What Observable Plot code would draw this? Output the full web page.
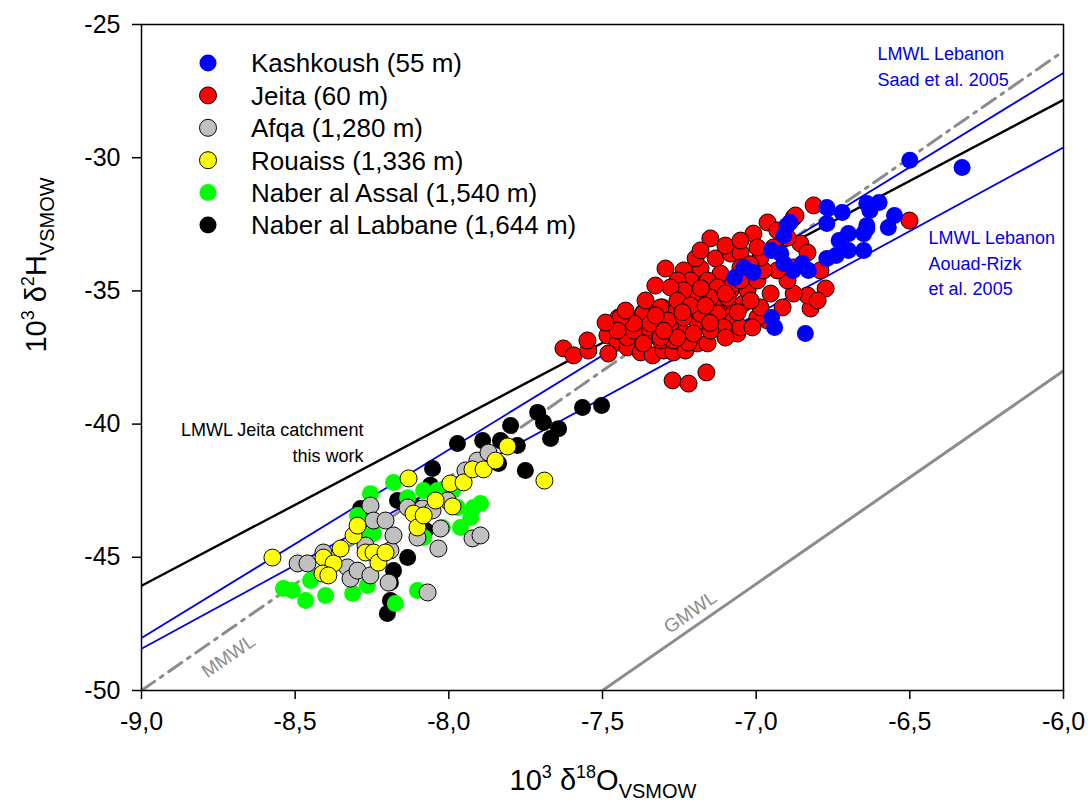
<!DOCTYPE html>
<html><head><meta charset="utf-8">
<script src="https://cdn.jsdelivr.net/npm/d3@7"></script>
<script src="https://cdn.jsdelivr.net/npm/@observablehq/plot@0.6"></script>
<style>body{margin:0;background:#fff} svg{display:block}</style>
</head><body><div id="chart"></div>
<script>
// [δ18O, δ2H] pairs
const kashkoush = [[-6.33,-30.37],[-6.50,-30.10],[-6.84,-36.60],[-6.95,-36.00],[-6.94,-36.37],[-7.07,-34.50],[-7.04,-34.12],[-7.01,-34.31],[-6.95,-33.48],[-6.92,-33.60],[-6.91,-33.97],[-6.88,-34.23],[-6.85,-33.97],[-6.83,-34.23],[-6.90,-32.55],[-6.91,-32.92],[-6.89,-32.43],[-6.77,-31.87],[-6.72,-32.06],[-6.77,-32.47],[-6.73,-33.11],[-6.70,-32.85],[-6.77,-33.78],[-6.74,-33.67],[-6.70,-33.48],[-6.65,-33.48],[-6.64,-32.55],[-6.63,-31.98],[-6.65,-32.85],[-6.64,-31.72],[-6.60,-31.68],[-6.55,-32.17],[-6.57,-32.62],[-6.64,-32.66]];
const jeita = [[-7.627,-37.16],[-7.594,-37.42],[-7.546,-37.24],[-7.549,-36.86],[-7.484,-36.67],[-7.448,-36.00],[-7.386,-36.11],[-7.367,-35.81],[-7.451,-36.94],[-7.481,-37.35],[-7.419,-37.12],[-7.376,-37.31],[-7.337,-37.42],[-7.301,-37.24],[-7.269,-37.31],[-7.230,-37.24],[-7.191,-36.97],[-7.158,-36.97],[-7.100,-36.67],[-7.061,-36.60],[-7.272,-38.36],[-7.220,-38.48],[-7.162,-38.06],[-7.305,-35.62],[-7.269,-35.74],[-7.223,-35.36],[-7.256,-34.87],[-7.191,-34.98],[-7.139,-35.10],[-7.083,-34.98],[-7.110,-35.55],[-7.334,-36.22],[-7.279,-36.37],[-7.236,-36.60],[-7.191,-36.22],[-7.158,-36.00],[-7.116,-35.85],[-7.093,-36.22],[-7.074,-35.85],[-7.419,-36.75],[-7.367,-36.79],[-7.311,-36.86],[-7.269,-36.86],[-7.220,-36.94],[-7.354,-36.37],[-7.399,-36.49],[-7.149,-33.03],[-7.236,-34.23],[-7.181,-34.16],[-7.132,-33.78],[-7.083,-33.60],[-7.051,-33.56],[-7.009,-32.85],[-6.963,-32.43],[-6.931,-32.73],[-6.878,-32.25],[-6.856,-33.22],[-6.833,-33.56],[-6.791,-34.23],[-6.774,-34.91],[-6.823,-35.66],[-6.833,-35.17],[-6.878,-35.10],[-6.914,-35.62],[-6.953,-35.10],[-6.898,-34.61],[-6.931,-34.23],[-6.878,-34.12],[-6.963,-36.11],[-6.996,-36.00],[-6.986,-35.62],[-7.041,-35.47],[-7.074,-36.11],[-7.028,-34.98],[-6.996,-34.61],[-6.976,-34.23],[-6.986,-33.75],[-6.944,-33.37],[-6.898,-33.00],[-6.996,-33.37],[-7.051,-34.12],[-7.116,-34.35],[-7.158,-34.61],[-7.214,-34.61],[-7.256,-34.61],[-7.074,-34.72],[-7.126,-34.87],[-7.093,-35.25],[-7.149,-35.25],[-7.191,-35.10],[-7.236,-34.98],[-7.279,-34.87],[-7.256,-35.36],[-7.311,-35.62],[-7.367,-35.85],[-7.399,-36.22],[-7.441,-36.00],[-7.451,-36.49],[-7.344,-36.22],[-7.288,-36.11],[-7.236,-36.00],[-7.181,-35.85],[-7.126,-35.85],[-7.106,-36.37],[-7.149,-36.49],[-7.204,-36.60],[-7.256,-36.75],[-7.311,-36.75],[-7.367,-36.97],[-7.100,-36.75],[-7.051,-36.37],[-7.012,-36.37],[-6.813,-31.79],[-6.872,-32.17],[-6.501,-32.36],[-6.800,-35.36],[-7.214,-35.55],[-7.165,-35.55],[-7.051,-34.61],[-7.018,-35.36],[-7.327,-35.92],[-7.300,-36.50],[-7.240,-35.80],[-7.150,-36.20],[-7.060,-35.80],[-7.100,-35.10],[-7.020,-34.00],[-7.180,-34.90],[-7.360,-35.36],[-7.328,-34.80],[-7.295,-34.16],[-7.197,-33.78],[-7.181,-33.48],[-7.100,-33.30],[-7.051,-33.11],[-7.425,-35.74],[-7.490,-36.19]];
const afqa = [[-8.492,-45.23],[-8.460,-45.23],[-8.408,-44.82],[-8.330,-45.38],[-8.320,-45.80],[-8.297,-45.50],[-8.271,-44.56],[-8.255,-43.06],[-8.245,-43.62],[-8.206,-43.62],[-8.255,-45.68],[-8.196,-45.95],[-8.190,-44.74],[-8.180,-44.18],[-8.134,-43.13],[-8.086,-43.17],[-8.069,-46.32],[-8.034,-44.67],[-8.027,-43.92],[-8.004,-42.87],[-7.946,-41.74],[-7.907,-41.37],[-7.871,-41.07],[-7.923,-44.29],[-7.897,-44.18],[-8.053,-43.24],[-8.102,-44.26]];
const rouaiss = [[-8.574,-45.01],[-8.408,-45.01],[-8.375,-45.23],[-8.411,-45.61],[-8.392,-45.68],[-8.352,-44.67],[-8.310,-44.18],[-8.297,-43.81],[-8.271,-44.82],[-8.245,-44.82],[-8.229,-45.20],[-8.206,-44.82],[-8.131,-42.04],[-8.115,-43.36],[-8.102,-43.88],[-8.082,-43.43],[-8.043,-42.87],[-7.995,-42.23],[-7.988,-43.09],[-7.952,-42.19],[-7.923,-41.70],[-7.887,-41.70],[-7.848,-41.37],[-7.809,-40.84],[-7.689,-42.12]];
const assal = [[-8.538,-46.17],[-8.509,-46.25],[-8.466,-46.62],[-8.450,-45.87],[-8.401,-46.43],[-8.313,-46.36],[-8.265,-46.06],[-8.174,-46.73],[-8.102,-46.25],[-8.180,-42.19],[-8.255,-42.61],[-8.297,-43.43],[-8.287,-44.11],[-8.245,-44.11],[-8.134,-42.76],[-8.082,-42.49],[-8.037,-42.49],[-7.988,-42.49],[-7.962,-43.88],[-7.929,-43.51],[-7.920,-43.13],[-7.897,-42.98],[-7.972,-43.13],[-8.021,-43.88],[-8.082,-44.26]];
const labbane = [[-7.503,-39.30],[-7.565,-39.38],[-7.711,-39.56],[-7.692,-39.94],[-7.799,-40.05],[-7.643,-40.17],[-7.669,-40.54],[-7.777,-40.80],[-7.832,-40.62],[-7.890,-40.62],[-7.972,-40.73],[-7.838,-41.48],[-7.751,-41.74],[-8.053,-41.67],[-8.060,-42.30],[-8.167,-42.87],[-8.287,-43.17],[-8.076,-43.99],[-8.134,-45.01],[-8.180,-45.50],[-8.190,-45.95],[-8.190,-46.62],[-8.200,-47.11],[-8.118,-43.06]];

const seriesNames = ["Kashkoush (55 m)","Jeita (60 m)","Afqa (1,280 m)","Rouaiss (1,336 m)","Naber al Assal (1,540 m)","Naber al Labbane (1,644 m)"];
const seriesData = [kashkoush, jeita, afqa, rouaiss, assal, labbane];
const seriesFill = ["#0000ff","#ff0000","#c0c0c0","#ffff00","#00ff00","#000000"];
const seriesStroke = ["none","#000","#000","#000","none","none"];
const drawOrder = [1,0,5,4,2,3];

// water lines: δ2H = slope·δ18O + intercept
const lineNames = ["GMWL","MMWL","LMWL Saad","LMWL Aouad-Rizk","LMWL Jeita"];
const lineSlopes = [8, 8, 7.07, 6.27, 6.08];
const lineIntercepts = [10, 22, 15.6, 8.0, 8.65];
const lineColors = ["#8c8c8c","#8c8c8c","#0000ee","#0000ee","#000000"];
const lineWidths = [3, 3, 1.8, 1.8, 2.4];
const lineDash = [null, "16,7,3,7", null, null, null];

const xTicks = [-9,-8.5,-8,-7.5,-7,-6.5,-6];
const yTicks = [-50,-45,-40,-35,-30,-25];

const FONT = "'Liberation Sans', Arial, Helvetica, sans-serif";
const xDomain = [-9,-6];

const lineMarks = lineNames.map((n,i) => Plot.line(
  xDomain.map(x => ({x, y: lineSlopes[i]*x + lineIntercepts[i]})),
  {x:"x", y:"y", stroke: lineColors[i], strokeWidth: lineWidths[i], strokeDasharray: lineDash[i], clip: true}
));

const dotMarks = drawOrder.map(i => Plot.dot(seriesData[i], {
  x: d => d[0], y: d => d[1], r: 8.5, fill: seriesFill[i],
  stroke: seriesStroke[i], strokeWidth: 1, clip: true
}));

const labels = [
  {x:-6.605, y:-26.52, t:"LMWL Lebanon\nSaad et al. 2005", c:"#0000ee", a:"start"},
  {x:-6.439, y:-33.90, t:"LMWL Lebanon\nAouad-Rizk\net al. 2005", c:"#0000ee", a:"start"},
  {x:-8.278, y:-40.62, t:"LMWL Jeita catchment\nthis work", c:"#000", a:"end"}
];

const chart = Plot.plot({
  width: 1088, height: 804,
  marginLeft: 141, marginRight: 25, marginTop: 24, marginBottom: 114,
  style: {fontFamily: FONT, background: "#fff", color: "#000"},
  x: {domain: xDomain, label: null},
  y: {domain: [-50,-25], label: null},
  marks: [
    ...lineMarks,
    ...dotMarks,
    Plot.frame({stroke: "#000", strokeWidth: 1.5}),
    ...labels.map(l => Plot.text([l], {x:"x", y:"y", text: d => d.t, fill: l.c, textAnchor: l.a, fontSize: 18, lineHeight: 1.42})),
    Plot.text([{x:-8.717, y:-48.72}], {x:"x", y:"y", text: () => "MMWL", rotate: -34.8, fill: "#8c8c8c", fontSize: 19}),
    Plot.text([{x:-7.214, y:-47.07}], {x:"x", y:"y", text: () => "GMWL", rotate: -34.8, fill: "#8c8c8c", fontSize: 19}),
    Plot.axisX({ticks: xTicks, tickFormat: d => d.toFixed(1).replace(".", ","), tickSize: 9, tickPadding: 13, fontSize: 25, label: null}),
    Plot.axisY({ticks: yTicks, tickFormat: d => String(d), tickSize: 9, tickPadding: 12, fontSize: 25, label: null})
  ]
});
document.getElementById("chart").appendChild(chart);

const svg = d3.select(chart);
svg.selectAll("[aria-label='x-axis tick'], [aria-label='y-axis tick']").attr("stroke-width", 1.5);

// legend
const lg = svg.append("g").attr("font-family", FONT).attr("text-anchor", "start");
seriesNames.forEach((n,i) => {
  const yy = 63 + i*32.4;
  lg.append("circle").attr("cx", 208).attr("cy", yy).attr("r", 8.5)
    .attr("fill", seriesFill[i]).attr("stroke", seriesStroke[i] === "none" ? "none" : "#000").attr("stroke-width", 1);
  lg.append("text").attr("x", 251).attr("y", yy).attr("dy", "0.36em").attr("font-size", 26).attr("text-anchor", "start").text(n);
});

// axis titles
const xt = svg.append("text").attr("x", 603).attr("y", 790).attr("text-anchor", "middle")
  .attr("font-family", FONT).attr("font-size", 29);
xt.append("tspan").text("10");
xt.append("tspan").attr("dy", -12).attr("font-size", 18).text("3");
xt.append("tspan").attr("dy", 12).text(" δ");
xt.append("tspan").attr("dy", -12).attr("font-size", 18).text("18");
xt.append("tspan").attr("dy", 12).text("O");
xt.append("tspan").attr("dy", 8).attr("font-size", 20).text("VSMOW");

const yt = svg.append("text").attr("transform", "translate(46,265) rotate(-90)").attr("text-anchor", "middle")
  .attr("font-family", FONT).attr("font-size", 29);
yt.append("tspan").text("10");
yt.append("tspan").attr("dy", -12).attr("font-size", 18).text("3");
yt.append("tspan").attr("dy", 12).text(" δ");
yt.append("tspan").attr("dy", -12).attr("font-size", 18).text("2");
yt.append("tspan").attr("dy", 12).text("H");
yt.append("tspan").attr("dy", 8).attr("font-size", 20).text("VSMOW");
</script>
</body></html>
